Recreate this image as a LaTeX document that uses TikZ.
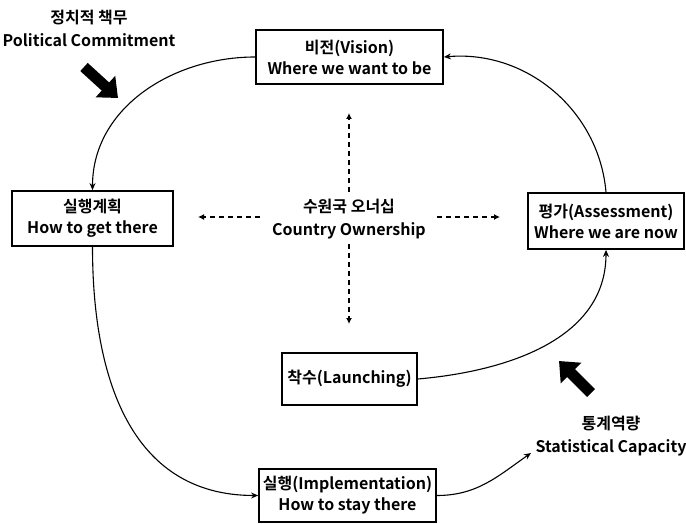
\documentclass[tikz,border=0pt]{standalone}
\usepackage{fontspec}
\setmainfont{Noto Sans CJK KR Bold}
\usetikzlibrary{arrows.meta}
\begin{document}
\begin{tikzpicture}[x=1pt,y=-1pt]
\tikzset{stufe/.style={rectangle, draw=black, line width=1.8pt, align=center, inner sep=2pt, font=\fontsize{16}{21}\selectfont},
  kurve/.style={line width=1.1pt, -{Stealth[length=7pt,width=6pt]}},
  strich/.style={line width=1.6pt, dash pattern=on 5pt off 4pt, -{Latex[length=6pt,width=6pt]}},
  etikett/.style={align=center, font=\fontsize{16}{23}\selectfont},
  blockpfeil/.style={line width=11pt, -{Triangle[length=17pt,width=28pt]}}}
\useasboundingbox (0,0) rectangle (686,524);
\node[stufe, minimum width=187pt, minimum height=54pt] at (349.5, 57) (vision) {비전(Vision)\\Where we want to be};
\node[stufe, minimum width=161pt, minimum height=55pt] at (92.5, 218.5) (plan) {실행계획\\How to get there};
\node[stufe, minimum width=156pt, minimum height=56pt] at (606, 221) (bewert) {평가(Assessment)\\Where we are now};
\node[stufe, minimum width=135pt, minimum height=52pt] at (349.5, 379) (start) {착수(Launching)};
\node[stufe, minimum width=177pt, minimum height=53pt] at (347.5, 495.5) (umsetz) {실행(Implementation)\\How to stay there};
\node[etikett] at (349, 219) (mitte) {수원국 오너십\\Country Ownership};
\node[etikett] at (89, 28) (politik) {정치적 책무\\Political Commitment};
\node[etikett] at (611, 436) (kapaz) {통계역량\\Statistical Capacity};
\coordinate (kz) at (531, 453);
% block arrows
\coordinate (p1a) at (84, 67);
\coordinate (p1b) at (118, 98);
\coordinate (p2a) at (591, 393);
\coordinate (p2b) at (559, 361);
\draw [blockpfeil] (p1a) -- (p1b);
\draw [blockpfeil] (p2a) -- (p2b);
% cycle
\draw [kurve] (bewert.north) to[out=95, in=5] (vision.east);
\draw [kurve] (vision.west) to[out=180, in=90] (plan.north);
\draw [kurve] (plan.south) to[out=-90, in=180, looseness=1.1] (umsetz.west);
\draw [kurve] (start.east) to[out=5, in=-90] (bewert.south);
\draw [kurve] (umsetz.east) to[out=0, in=215] (kz);
% ownership arrows
\draw [strich] (260, 217) -- (198, 217);
\draw [strich] (437, 217) -- (500, 217);
\draw [strich] (349, 192) -- (349, 113);
\draw [strich] (349, 244) -- (349, 324);
\end{tikzpicture}
\end{document}
